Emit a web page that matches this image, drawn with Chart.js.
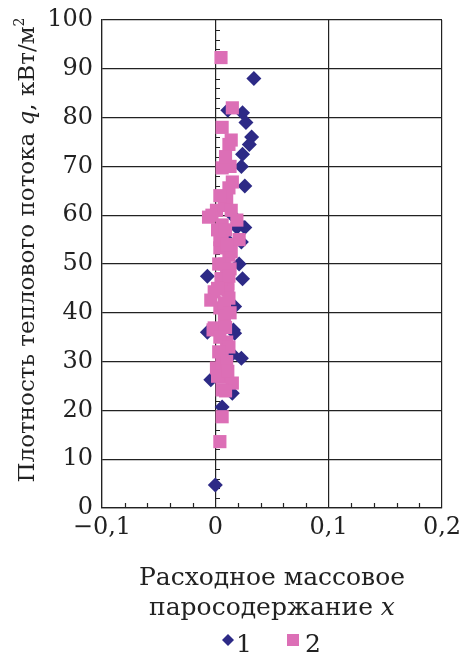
<!DOCTYPE html>
<html>
<head>
<meta charset="utf-8">
<script src="https://cdn.jsdelivr.net/npm/chart.js@4/dist/chart.umd.min.js"></script>
<style>
  html, body { margin: 0; padding: 0; background: #fff; }
</style>
</head>
<body>
<canvas id="chart" width="461" height="660"></canvas>
<script>
// данные
const xTickValues = [-0.1, 0, 0.1, 0.2];
const yTickValues = [0, 10, 20, 30, 40, 50, 60, 70, 80, 90, 100];

// серия 1 (ромбы)
const series1X = [0.034, 0.024, 0.011, 0.027, 0.032, 0.030, 0.024, 0.023, 0.026, 0.015, 0.020, 0.026,
  0.023, 0.010, 0.019, 0.021, -0.007, 0.024, 0.017, 0.004, 0.017, -0.007, 0.016, 0.023, 0.015,
  -0.004, 0.015, 0.006, 0.000];
const series1Y = [88, 81, 81.5, 79, 76, 74.5, 72.5, 70, 66, 60, 58.5, 57.5,
  54.5, 55, 57.5, 50, 47.5, 47, 41.3, 37, 35.8, 36, 36.5, 30.7, 31.5,
  26.3, 23.5, 20.7, 4.7];

// серия 2 (квадраты)
const series2X = [0.005, 0.015, 0.006, 0.014, 0.012, 0.006, 0.015, 0.012, 0.010, 0.001, -0.003, 0.006,
  0.019, 0.006, 0.021, 0.004, 0.012, 0.010, 0.011, 0.011, -0.001, 0.004, 0.008, -0.001, -0.002,
  0.010, 0.006, 0.001, 0.006, 0.015, 0.006, 0.006, 0.004, -0.004, -0.006, 0.008, 0.014, 0.008,
  0.012, 0.006, 0.002, 0.009, 0.004, 0.010, 0.003, 0.013, 0.005, 0.012, 0.002, 0.008, 0.013,
  0.009, 0.004, 0.012, 0.003, 0.010, 0.002, 0.011, 0.009, 0.014, 0.004, 0.013, 0.009];
const series2Y = [92.3, 82, 78, 75.4, 74.5, 69.7, 66.8, 65.6, 63, 61, 60, 58,
  59, 56, 55, 53.3, 51.8, 48.8, 46, 44.7, 44.3, 41, 39.5, 36.9, 36.5,
  34, 31.4, 28.7, 26.8, 25.6, 24.2, 18.7, 13.6, 42.6, 59.6, 62, 52.5, 50,
  43, 29.5, 57, 57, 55, 54, 50, 49, 47, 47.5, 45, 42, 40,
  37, 35, 33, 32, 30, 27, 28, 24, 61, 64, 70, 72];

const seriesLabels = ['1', '2'];

const NAVY = '#2d2a86';
const PINK = '#dc6fb6';
const INK = '#222';
const FONT = 'DejaVu Serif';

function toPoints(xs, ys) {
  return xs.map((x, i) => ({ x: x, y: ys[i] }));
}

function fmtX(v) {
  if (Math.abs(v) < 1e-9) return '0';
  return (v < 0 ? '\u2212' : '') + Math.abs(v).toFixed(1).replace('.', ',');
}

// подписи осей, малые деления и легенда
const decor = {
  id: 'decor',
  beforeDatasetsDraw(chart) {
    const ctx = chart.ctx;
    const xs = chart.scales.x, ys = chart.scales.y;
    ctx.save();
    ctx.strokeStyle = INK;
    ctx.lineWidth = 1.2;
    ctx.beginPath();
    // малые деления по оси x (шаг 0,02)
    for (let k = -5; k <= 10; k++) {
      if (k % 5 === 0) continue;
      const px = Math.round(xs.getPixelForValue(k * 0.02)) + 0.5;
      ctx.moveTo(px, ys.bottom);
      ctx.lineTo(px, ys.bottom - 5);
    }
    // малые деления на нулевой вертикали (шаг 2)
    const x0 = Math.round(xs.getPixelForValue(0));
    for (let v = 2; v < 100; v += 2) {
      if (v % 10 === 0) continue;
      const py = Math.round(ys.getPixelForValue(v)) + 0.5;
      ctx.moveTo(x0, py);
      ctx.lineTo(x0 + 5, py);
    }
    ctx.stroke();
    ctx.restore();
  },
  afterDraw(chart) {
    const ctx = chart.ctx;
    const area = chart.chartArea;
    ctx.save();
    ctx.fillStyle = INK;
    ctx.textBaseline = 'alphabetic';

    // подпись оси y (повёрнутая)
    const size = 23;
    const parts = [
      { t: 'Плотность теплового потока ', f: size + 'px "' + FONT + '"' },
      { t: 'q', f: 'italic ' + size + 'px "' + FONT + '"' },
      { t: ', кВт/м', f: size + 'px "' + FONT + '"' },
      { t: '2', f: Math.round(size * 0.62) + 'px "' + FONT + '"', sup: true }
    ];
    let total = 0;
    parts.forEach(p => { ctx.font = p.f; p.w = ctx.measureText(p.t).width; total += p.w; });
    ctx.translate(34, 250);
    ctx.rotate(-Math.PI / 2);
    let cx = -total / 2;
    parts.forEach(p => {
      ctx.font = p.f;
      ctx.fillText(p.t, cx, p.sup ? -size * 0.42 : 0);
      cx += p.w;
    });
    ctx.setTransform(1, 0, 0, 1, 0, 0);

    // подпись оси x
    const mid = (area.left + area.right) / 2;
    const tsize = 25;
    ctx.textAlign = 'center';
    ctx.font = tsize + 'px "' + FONT + '"';
    ctx.fillText('Расходное массовое', mid, 585);
    const a = 'паросодержание ';
    const wa = ctx.measureText(a).width;
    ctx.font = 'italic ' + tsize + 'px "' + FONT + '"';
    const wb = ctx.measureText('x').width;
    ctx.textAlign = 'left';
    ctx.font = tsize + 'px "' + FONT + '"';
    ctx.fillText(a, mid - (wa + wb) / 2, 615);
    ctx.font = 'italic ' + tsize + 'px "' + FONT + '"';
    ctx.fillText('x', mid - (wa + wb) / 2 + wa, 615);

    // легенда
    ctx.font = tsize + 'px "' + FONT + '"';
    ctx.fillStyle = NAVY;
    ctx.beginPath();
    ctx.moveTo(228, 634); ctx.lineTo(234, 640); ctx.lineTo(228, 646); ctx.lineTo(222, 640);
    ctx.closePath();
    ctx.fill();
    ctx.fillStyle = INK;
    ctx.fillText(seriesLabels[0], 236, 652);
    ctx.fillStyle = PINK;
    ctx.fillRect(287, 634, 12, 12);
    ctx.fillStyle = INK;
    ctx.fillText(seriesLabels[1], 305, 652);
    ctx.restore();
  }
};

new Chart(document.getElementById('chart'), {
  type: 'scatter',
  data: {
    datasets: [
      {
        label: seriesLabels[0],
        data: toPoints(series1X, series1Y),
        order: 1,
        pointStyle: 'rectRot',
        pointRadius: 7.5,
        backgroundColor: NAVY,
        borderColor: NAVY,
        borderWidth: 0
      },
      {
        label: seriesLabels[1],
        data: toPoints(series2X, series2Y),
        order: 0,
        pointStyle: 'rect',
        pointRadius: 9.3,
        backgroundColor: PINK,
        borderColor: PINK,
        borderWidth: 0
      }
    ]
  },
  options: {
    responsive: false,
    animation: false,
    layout: { padding: { top: 20, right: 19, left: 0, bottom: 0 } },
    plugins: {
      legend: { display: false },
      tooltip: { enabled: false }
    },
    scales: {
      x: {
        type: 'linear',
        min: xTickValues[0],
        max: xTickValues[xTickValues.length - 1],
        afterFit: s => { s.height = 152; s.paddingLeft = 0; s.paddingRight = 0; },
        afterBuildTicks: s => { s.ticks = xTickValues.map(v => ({ value: v })); },
        ticks: {
          callback: v => fmtX(v),
          color: INK,
          padding: 5,
          maxRotation: 0,
          font: { family: FONT, size: 24 }
        },
        grid: { color: INK, lineWidth: 1.2, drawTicks: false },
        border: { color: INK, width: 1.2 }
      },
      y: {
        min: yTickValues[0],
        max: yTickValues[yTickValues.length - 1],
        afterFit: s => { s.width = 102; s.paddingTop = 0; s.paddingBottom = 0; },
        afterBuildTicks: s => { s.ticks = yTickValues.map(v => ({ value: v })); },
        ticks: {
          color: INK,
          padding: 9,
          font: { family: FONT, size: 24 }
        },
        grid: { color: INK, lineWidth: 1.2, drawTicks: false },
        border: { color: INK, width: 1.2 }
      }
    }
  },
  plugins: [decor]
});
</script>
</body>
</html>
